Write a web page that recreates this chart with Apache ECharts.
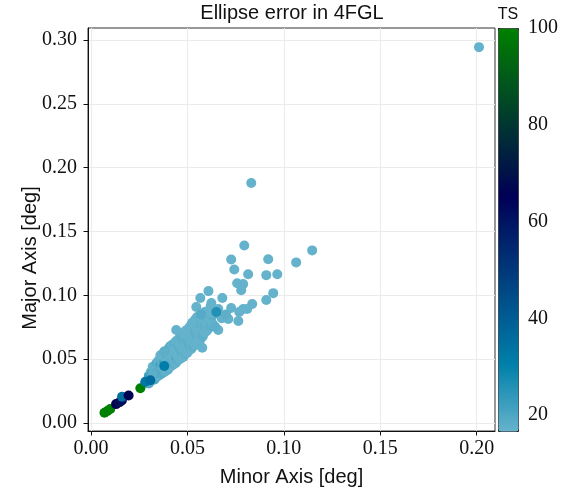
<!DOCTYPE html>
<html><head><meta charset="utf-8">
<script src="https://cdn.jsdelivr.net/npm/echarts@6/dist/echarts.min.js"></script>
<style>html,body{margin:0;padding:0;background:#fff}#c{width:570px;height:497px}</style>
</head><body><div id="c"></div>
<script>
// ---- data ----
const titleText = 'Ellipse error in 4FGL';
const xName = 'Minor Axis [deg]';
const yName = 'Major Axis [deg]';
const cbName = 'TS';
const xTicks = [0.00, 0.05, 0.10, 0.15, 0.20];
const yTicks = [0.00, 0.05, 0.10, 0.15, 0.20, 0.25, 0.30];
const cbTicks = [20, 40, 60, 80, 100];
const tsRange = [16.7, 100];

// dense band (faint sources)
const bandMinor = [
 0.030,0.030,0.030, 0.031,0.031,0.031, 0.032,0.032,0.032,0.032, 0.033,0.033,0.033,
 0.034,0.034,0.034,0.034, 0.035,0.035,0.035,0.035, 0.036,0.036,0.036,0.036,0.036,
 0.037,0.037,0.037,0.037, 0.038,0.038,0.038,0.038,0.038, 0.039,0.039,0.039,0.039,
 0.040,0.040,0.040,0.040,0.040, 0.041,0.041,0.041,0.041,0.041, 0.042,0.042,0.042,0.042,0.042,
 0.043,0.043,0.043,0.043,0.043, 0.044,0.044,0.044,0.044,0.044, 0.045,0.045,0.045,0.045,0.045,
 0.046,0.046,0.046,0.046,0.046, 0.047,0.047,0.047,0.047,0.047, 0.048,0.048,0.048,0.048,0.048,
 0.049,0.049,0.049,0.049,0.049, 0.050,0.050,0.050,0.050,0.050, 0.051,0.051,0.051,0.051,0.051,
 0.052,0.052,0.052,0.052,0.052, 0.053,0.053,0.053,0.053,0.053, 0.054,0.054,0.054,0.054,0.054,
 0.055,0.055,0.055,0.055,0.055, 0.056,0.056,0.056,0.056, 0.057,0.057,0.057,0.057,
 0.058,0.058,0.058,0.058, 0.059,0.059,0.059, 0.060,0.060,0.060, 0.061,0.061,0.061,
 0.062,0.062, 0.063,0.063
];
const bandMajor = [
 0.031,0.034,0.037, 0.033,0.036,0.040, 0.034,0.037,0.041,0.044, 0.034,0.038,0.042,
 0.036,0.040,0.043,0.047, 0.037,0.041,0.045,0.049, 0.038,0.042,0.046,0.050,0.053,
 0.039,0.043,0.047,0.051, 0.040,0.044,0.048,0.052,0.056, 0.041,0.045,0.049,0.053,
 0.042,0.046,0.050,0.054,0.058, 0.044,0.048,0.052,0.056,0.060, 0.045,0.049,0.053,0.057,0.061,
 0.046,0.050,0.054,0.058,0.062, 0.047,0.051,0.055,0.059,0.064, 0.049,0.053,0.057,0.061,0.065,
 0.050,0.054,0.058,0.062,0.067, 0.051,0.055,0.059,0.064,0.068, 0.052,0.057,0.061,0.065,0.070,
 0.054,0.058,0.062,0.067,0.071, 0.055,0.060,0.064,0.068,0.073, 0.057,0.061,0.066,0.070,0.075,
 0.058,0.063,0.067,0.072,0.077, 0.060,0.064,0.069,0.074,0.079, 0.061,0.066,0.071,0.076,0.081,
 0.063,0.068,0.073,0.078,0.083, 0.065,0.070,0.075,0.080, 0.066,0.072,0.077,0.082,
 0.068,0.074,0.079,0.084, 0.071,0.076,0.081, 0.072,0.078,0.083, 0.074,0.080,0.085,
 0.076,0.082, 0.078,0.084
];
const bandTS = [
 19,18,20, 18,22,17, 19,18,21,17, 20,17,18,
 18,23,17,19, 17,19,18,17, 18,17,21,18,17,
 19,17,18,17, 18,17,22,17,18, 17,18,17,19,
 18,17,17,18,17, 17,18,17,17,19, 17,18,17,21,17,
 18,17,17,17,18, 17,19,17,17,17, 18,17,17,18,17,
 17,17,18,17,17, 17,18,17,17,18, 17,17,17,18,17,
 18,17,17,17,17, 17,17,18,17,17, 17,18,17,17,17,
 17,17,17,19,17, 18,17,17,17,17, 17,17,18,17,17,
 17,18,17,17,17, 17,17,17,18, 17,17,18,17,
 18,17,17,17, 17,18,17, 17,17,18, 17,17,17,
 18,17, 17,18
];

// sparse faint points and outliers
const sparseMinor = [
 0.2012,0.0831,0.1147,0.1064,0.0795,0.0727,0.0919,0.0743,0.0815,0.0909,0.0966,0.0758,0.0789,
 0.0779,0.0945,0.0909,0.0836,0.0681,0.0609,0.0567,0.0546,0.0727,0.0789,0.0769,0.0712,0.0764,
 0.0660,0.0619,0.0624,0.0810,0.0442,0.0489,0.0525,0.0660,0.0619,0.0577,0.0380,
 0.0644,0.0678,0.0700,0.0590,0.0570,0.0281,0.0333,0.0300,0.0320
];
const sparseMajor = [
 0.2944,0.1880,0.1352,0.1258,0.1390,0.1280,0.1282,0.1203,0.1165,0.1158,0.1165,0.1095,0.1088,
 0.1040,0.1017,0.0963,0.0932,0.0979,0.1033,0.0979,0.0908,0.0901,0.0893,0.0869,0.0815,0.0799,
 0.0893,0.0908,0.0940,0.0893,0.0729,0.0721,0.0784,0.0729,0.0862,0.0589,0.0558,
 0.0754,0.0820,0.0850,0.0870,0.0850,0.0313,0.0390,0.0360,0.0380
];
const sparseTS = [
 17,17,17,17,17,17,17,17,17,17,17,17,17,
 17,17,17,17,17,17,17,17,17,17,17,17,17,
 17,17,17,17,17,17,17,17,17,17,18,
 18,17,18,17,19,20,19,22,18
];

// bright sources (drawn last)
const brightMinor = [0.0070,0.0085,0.0100,0.0130,0.0148,0.0160,0.0161,0.0195,0.0256,0.0282,0.0308,0.0380,0.0650];
const brightMajor = [0.0080,0.0094,0.0110,0.0148,0.0163,0.0176,0.0205,0.0215,0.0272,0.0323,0.0335,0.0446,0.0870];
const brightTS    = [100,100,100,65,70,62,35,66,100,33,36,31,26];

// ---- build ----
function rows(a,b,c){ const r=[]; for(let i=0;i<a.length;i++) r.push([a[i],b[i],c[i]]); return r; }
const pts = rows(bandMinor,bandMajor,bandTS)
  .concat(rows(sparseMinor,sparseMajor,sparseTS))
  .concat(rows(brightMinor,brightMajor,brightTS));

const serif = '"Liberation Serif", serif';
const sans = '"Liberation Sans", sans-serif';
const chart = echarts.init(document.getElementById('c'), null, {renderer:'canvas'});
chart.setOption({
  animation:false,
  backgroundColor:'#fff',
  grid:[
    {left:88, right:75, top:28, bottom:66, show:true, borderColor:'#333', borderWidth:1, backgroundColor:'transparent'},
    {left:498, width:20, top:28, bottom:66, show:false}
  ],
  graphic:[
    {type:'text', x:292, y:13, style:{text:titleText, font:'20px '+sans, fill:'#111', align:'center', verticalAlign:'middle'}},
    {type:'text', x:508, y:15, style:{text:cbName, font:'16px '+sans, fill:'#111', align:'center', verticalAlign:'middle'}},
    {type:'text', x:30, y:258, rotation:Math.PI/2, style:{text:yName, font:'20px '+sans, fill:'#111', align:'center', verticalAlign:'middle'}}
  ],
  xAxis:[
    {type:'value', gridIndex:0, min:-0.00155, max:0.2095, splitNumber:5,
     name:xName, nameLocation:'middle', nameGap:36, nameTextStyle:{fontFamily:sans, fontSize:20, color:'#111'},
     axisLine:{show:true, onZero:false, lineStyle:{color:'#111', width:1}},
     axisTick:{show:true, inside:false, length:4.5, customValues:xTicks, lineStyle:{color:'#111'}},
     axisLabel:{customValues:xTicks, margin:8, fontFamily:serif, fontSize:20, color:'#111', formatter:v=>v.toFixed(2)},
     splitLine:{show:true, lineStyle:{color:'#ebebeb', width:1}}},
    {type:'value', gridIndex:1, min:0, max:1, show:false}
  ],
  yAxis:[
    {type:'value', gridIndex:0, min:-0.00627, max:0.3094, splitNumber:6,
     axisLine:{show:true, onZero:false, lineStyle:{color:'#111', width:1}},
     axisTick:{show:true, inside:false, length:4.5, customValues:yTicks, lineStyle:{color:'#111'}},
     axisLabel:{customValues:yTicks, margin:11, fontFamily:serif, fontSize:20, color:'#111', formatter:v=>v.toFixed(2)},
     splitLine:{show:true, lineStyle:{color:'#ebebeb', width:1}}},
    {type:'value', gridIndex:1, position:'right', min:tsRange[0], max:tsRange[1],
     axisLine:{show:false},
     axisTick:{show:true, inside:false, length:4, customValues:cbTicks, lineStyle:{color:'#111'}},
     axisLabel:{customValues:cbTicks, margin:10, fontFamily:serif, fontSize:20, color:'#111'},
     splitLine:{show:false}}
  ],
  visualMap:{
    type:'continuous', min:tsRange[0], max:tsRange[1], dimension:2, seriesIndex:0,
    left:498, top:28, itemWidth:20, itemHeight:403, padding:0,
    calculable:false, hoverLink:false, text:null, showLabel:false,
    borderColor:'#222', borderWidth:1,
    inRange:{color:['#66b3cc','#3399bb','#0080aa','#006699','#004d88','#003377','#001a66','#000055','#001a44','#003333','#004d22','#006611','#008000']}
  },
  series:[
    {type:'scatter', xAxisIndex:0, yAxisIndex:0, data:pts, symbolSize:10, itemStyle:{opacity:1}}
  ]
});
</script></body></html>
